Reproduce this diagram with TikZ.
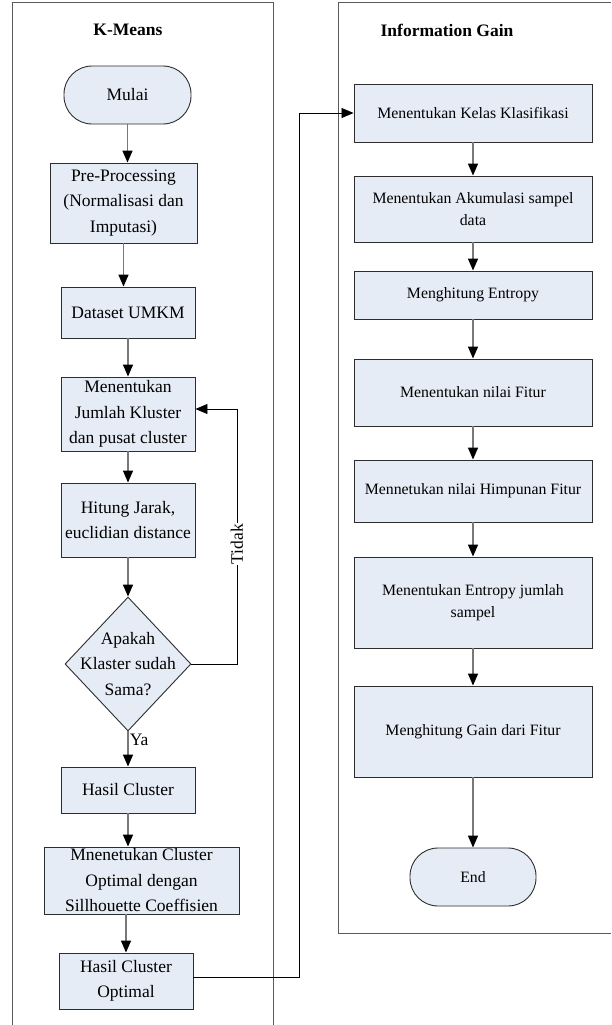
\documentclass[tikz,border=0pt]{standalone}
\usepackage{fontspec}
\setmainfont{Liberation Serif}
\usetikzlibrary{arrows.meta,shapes.geometric}
\definecolor{boxfill}{RGB}{230,236,246}
\definecolor{boxline}{RGB}{45,45,45}
\definecolor{flowline}{RGB}{120,120,120}
\definecolor{panelline}{RGB}{90,90,90}
\tikzset{
  lbox/.style={draw=boxline, fill=boxfill, line width=0.9pt, align=center, inner sep=0pt,
    font=\fontsize{17.5}{25.5}\selectfont},
  rbox/.style={draw=boxline, fill=boxfill, line width=0.9pt, align=center, inner sep=0pt,
    font=\fontsize{15.8}{22.3}\selectfont, minimum width=238pt},
  term/.style={draw=boxline, fill=boxfill, line width=0.9pt, inner sep=0pt, rounded corners=28pt},
  decision/.style={diamond, draw=boxline, fill=boxfill, line width=0.9pt, inner sep=0pt,
    minimum width=126pt, minimum height=134pt},
  flow/.style={draw=flowline, line width=1.5pt, -{Triangle[length=12pt,width=10pt,color=black]}},
  link/.style={draw=black, line width=0.8pt, -{Triangle[length=12pt,width=10pt,color=black]}},
  panel/.style={draw=panelline, line width=1pt},
  title/.style={font=\fontsize{17.5}{20}\selectfont\bfseries},
  lbl/.style={font=\fontsize{17.5}{20}\selectfont, inner sep=1pt}
}
\begin{document}
\begin{tikzpicture}[x=1pt,y=-1pt]
\useasboundingbox (0,0) rectangle (611,1025);
% panels
\draw[panel] (12,1025) -- (12,3) -- (273,3) -- (273,1025);
\draw[panel] (611,3) -- (338,3) -- (338,933) -- (611,933);
\node[title] (t1) at (128,30) {K-Means};
\node[title] (t2) at (447,30) {Information Gain};
% left column
\node[term, minimum width=127pt, minimum height=58pt, font=\fontsize{17.5}{25.5}\selectfont] (mulai) at (127.5,95) {Mulai};
\node[lbox, minimum width=147pt, minimum height=80pt] (pre) at (123.5,203) {Pre-Processing\\(Normalisasi dan\\Imputasi)};
\node[lbox, minimum width=134pt, minimum height=51pt] (data) at (128,312.5) {Dataset UMKM};
\node[lbox, minimum width=134pt, minimum height=74pt] (mj) at (128,414) {Menentukan\\Jumlah Kluster\\dan pusat cluster};
\node[lbox, minimum width=134pt, minimum height=74pt] (hj) at (128,520) {Hitung Jarak,\\euclidian distance};
\node[decision] (dec) at (128,664) {};
\node[align=center, inner sep=0pt, font=\fontsize{17.5}{25.5}\selectfont] (dectext) at (128,664) {Apakah\\Klaster sudah\\Sama?};
\node[lbox, minimum width=134pt, minimum height=46pt] (hc) at (128,790) {Hasil Cluster};
\node[lbox, minimum width=195pt, minimum height=67pt] (mco) at (141.5,880.5) {Mnenetukan Cluster\\Optimal dengan\\Sillhouette Coeffisien};
\node[lbox, minimum width=134pt, minimum height=56pt] (hco) at (126,981) {Hasil Cluster\\Optimal};
% right column
\node[rbox, minimum height=58pt] (kelas) at (473,113) {Menentukan Kelas Klasifikasi};
\node[rbox, minimum height=66pt] (akum) at (473,209) {Menentukan Akumulasi sampel\\data};
\node[rbox, minimum height=48pt] (ent) at (473,295) {Menghitung Entropy};
\node[rbox, minimum height=67pt] (fit) at (473,392.5) {Menentukan nilai Fitur};
\node[rbox, minimum height=62pt] (him) at (473,491) {Mennetukan nilai Himpunan Fitur};
\node[rbox, minimum height=91pt] (entj) at (473,602.5) {Menentukan Entropy jumlah\\sampel};
\node[rbox, minimum height=91pt] (gain) at (473,731.5) {Menghitung Gain dari Fitur};
\node[term, minimum width=126pt, minimum height=58pt, font=\fontsize{15.8}{22.3}\selectfont] (end) at (473,877) {End};
% left flow
\draw[flow] (mulai.south) -- (mulai.south |- pre.north);
\draw[flow] (pre.south) -- (pre.south |- data.north);
\draw[flow] (data.south) -- (mj.north);
\draw[flow] (mj.south) -- (hj.north);
\draw[flow] (hj.south) -- (dec.north);
\draw[flow] (dec.south) -- node[lbl, anchor=west, pos=0.25] (ya) {Ya} (hc.north);
\draw[flow] (hc.south) -- (hc.south |- mco.north);
\draw[flow] (hco.north |- mco.south) -- (hco.north);
% loop back
\coordinate (lt1) at (237,664);
\coordinate (lt2) at (237,409);
\draw[link] (dec.east) -- (lt1) -- node[lbl, rotate=90, fill=white, pos=0.47] (tidak) {Tidak} (lt2) -- ([yshift=5pt]mj.east);
% link to right column
\coordinate (c1) at (299,977);
\coordinate (c2) at (299,113);
\draw[link] (hco.east |- c1) -- (c1) -- (c2) -- (kelas.west);
% right flow
\draw[flow] (kelas.south) -- (akum.north);
\draw[flow] (akum.south) -- (ent.north);
\draw[flow] (ent.south) -- (fit.north);
\draw[flow] (fit.south) -- (him.north);
\draw[flow] (him.south) -- (entj.north);
\draw[flow] (entj.south) -- (gain.north);
\draw[flow] (gain.south) -- (end.north);
\end{tikzpicture}
\end{document}
